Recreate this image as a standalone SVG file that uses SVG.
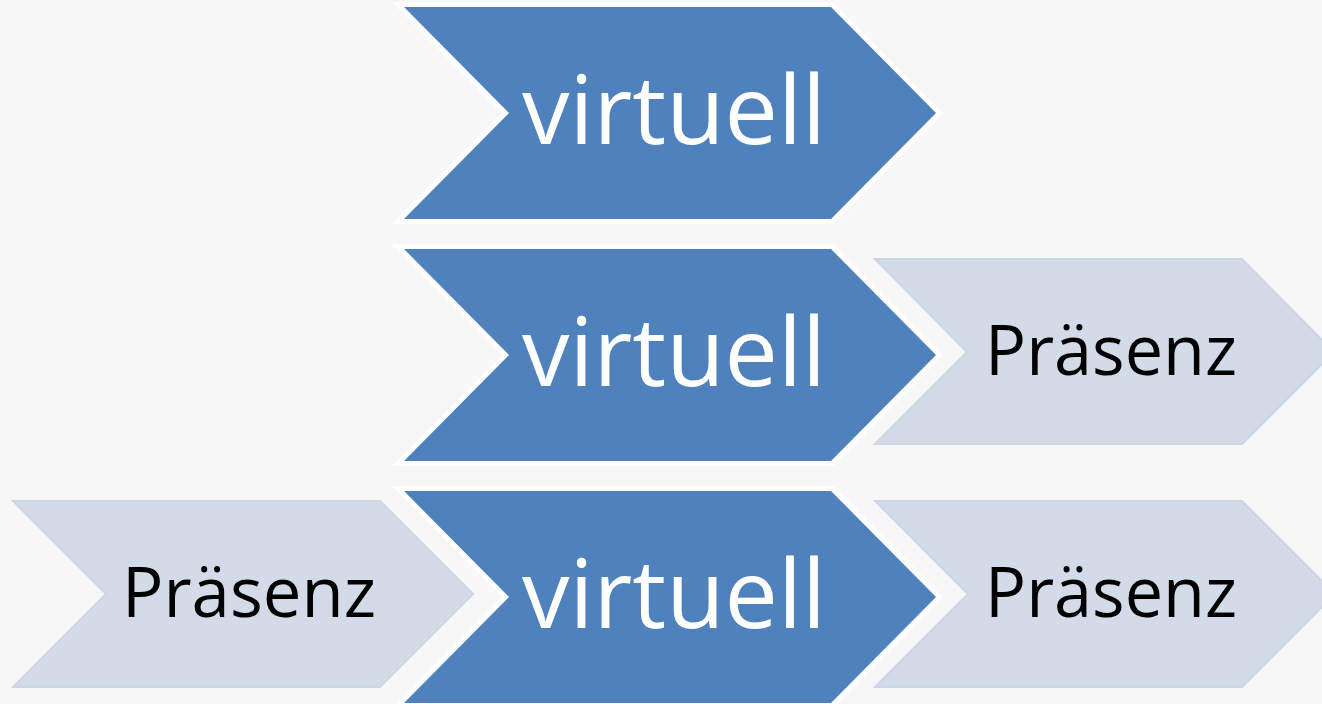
<svg xmlns="http://www.w3.org/2000/svg" width="1322" height="704" viewBox="0 0 1322 704">
<style>
.dark{fill:#4f81bd;stroke:#ffffff;stroke-width:10;stroke-linejoin:miter;paint-order:stroke}
.light{fill:#d4dbe8;stroke:#cdd6e6;stroke-width:2;stroke-linejoin:miter}
.vt{font-family:"Open Sans","Noto Sans","DejaVu Sans",sans-serif;font-size:96px;fill:#ffffff;text-anchor:middle}
.pt{font-family:"Open Sans","Noto Sans","DejaVu Sans",sans-serif;font-size:70px;fill:#000000;text-anchor:middle}
</style>
<rect width="1322" height="704" fill="#f7f7f7"/>
<g id="connectors"/>
<g id="node-virtuell-1">
<polygon class="dark" points="404,7 831,7 936,113 831,219 404,219 509,113"/>
<text class="vt" x="674" y="144" textLength="304" lengthAdjust="spacingAndGlyphs">virtuell</text>
</g>
<g id="node-virtuell-2">
<polygon class="dark" points="404,249 831,249 936,355 831,461 404,461 509,355"/>
<text class="vt" x="674" y="386" textLength="304" lengthAdjust="spacingAndGlyphs">virtuell</text>
</g>
<g id="node-praesenz-2">
<polygon class="light" points="875,259 1242,259 1334,352 1242,444 875,444 967,352"/>
<text class="pt" x="1111" y="375" textLength="252" lengthAdjust="spacingAndGlyphs">Präsenz</text>
</g>
<g id="node-praesenz-3a">
<polygon class="light" points="13,501 380,501 473,594 380,687 13,687 106,594"/>
<text class="pt" x="249" y="617" textLength="254" lengthAdjust="spacingAndGlyphs">Präsenz</text>
</g>
<g id="node-virtuell-3">
<polygon class="dark" points="404,491 831,491 936,597 831,703 404,703 509,597"/>
<text class="vt" x="674" y="628" textLength="304" lengthAdjust="spacingAndGlyphs">virtuell</text>
</g>
<g id="node-praesenz-3b">
<polygon class="light" points="875,501 1242,501 1335,594 1242,687 875,687 968,594"/>
<text class="pt" x="1111" y="617" textLength="252" lengthAdjust="spacingAndGlyphs">Präsenz</text>
</g>
</svg>
